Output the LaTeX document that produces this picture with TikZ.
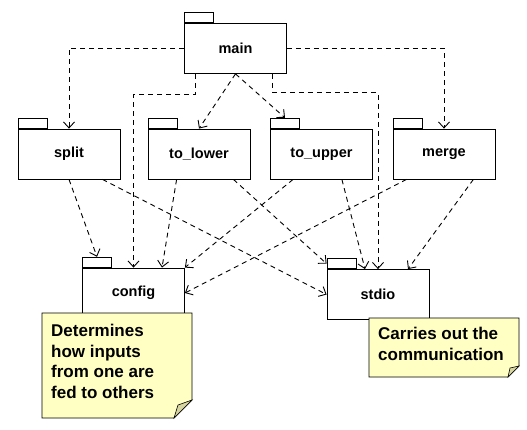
\documentclass[tikz,border=0pt]{standalone}
\usepackage{fontspec}
\setmainfont{Liberation Sans}
\usetikzlibrary{arrows.meta,calc}

\definecolor{notefill}{RGB}{255,255,196}
\definecolor{foldfill}{RGB}{216,214,160}

\tikzset{
    pkg/.style={draw, line width=0.8pt, minimum width=102pt, minimum height=50pt, inner sep=0pt,
        font=\fontsize{14.5}{17}\selectfont\bfseries},
    pkgtab/.style={draw, line width=0.8pt, minimum width=29pt, minimum height=10pt, inner sep=0pt, anchor=south west},
    dep/.style={line width=0.9pt, dash pattern=on 5pt off 4pt, -{Straight Barb[length=6pt,width=11pt]}},
    note/.style={draw, line width=0.8pt, fill=notefill},
    fold/.style={draw, line width=0.6pt, fill=foldfill},
    notetext/.style={anchor=north west, align=left, inner xsep=9pt,
        font=\fontsize{17}{20.5}\selectfont\bfseries}
}

\begin{document}
\begin{tikzpicture}[x=1pt, y=-1pt]
        \useasboundingbox (0,0) rectangle (527,430);
        % The packages.
            \node[pkg] (main) at (235.5,48.5) {main};
            \node[pkg] (split) at (69,154) {split};
            \node[pkg] (to_lower) at (199,154) {to\_lower};
            \node[pkg] (to_upper) at (321.5,154) {to\_upper};
            \node[pkg] (merge) at (444,154) {merge};
            \node[pkg] (config) at (133.5,293) {config};
            \node[pkg] (stdio) at (378,294.5) {stdio};
        % Tabs on top of each package.
            \foreach \p in {main,split,to_lower,to_upper,merge,config,stdio}
                \node[pkgtab] (\p-tab) at (\p.north west) {};
        % Dependencies of main.
            \draw[dep] (main.west) -| (split.north);
            \draw[dep] (main.east) -| (merge.north);
            \draw[dep] (main.south) -- (to_lower.north);
            \draw[dep] (main.south) -- (to_upper-tab.north);
            \draw[dep] ($(main.south west)+(11,0)$) -- ++(0,21) -| (config.north);
            \draw[dep] ($(main.south east)+(-14,0)$) -- ++(0,19) -| (stdio.north);
        % Dependencies of the filters on config and stdio.
            \draw[dep] (split.south) -- (config-tab.north);
            \draw[dep] ($(split.south east)+(-18,0)$) -- (stdio.west);
            \draw[dep] ($(to_lower.south west)+(29,0)$) -- ($(config.north)+(28.5,0)$);
            \draw[dep] ($(to_lower.south east)+(-17,0)$) -- (stdio-tab.west);
            \draw[dep] ($(to_upper.south west)+(23,0)$) -- (config.north east);
            \draw[dep] ($(to_upper.south east)+(-31,0)$) -- ($(stdio.north)+(-13,0)$);
            \draw[dep] ($(merge.south west)+(14,0)$) -- (config.east);
            \draw[dep] ($(merge.south east)+(-22,0)$) -- ($(stdio.north)+(30,0)$);
        % The two notes.
            \draw[note] (42,313) -- (192,313) -- (192,400) -- (174,418) -- (42,418) -- cycle;
            \draw[fold] (174,418) -- (192,400) -- (178,405) -- cycle;
            \node[notetext, inner ysep=11pt] (config note) at (42,313) {Determines\\how inputs\\from one are\\fed to others};
            \draw[note] (369,318) -- (519,318) -- (519,366) -- (508,377) -- (369,377) -- cycle;
            \draw[fold] (508,377) -- (519,366) -- (510,368) -- cycle;
            \node[notetext, inner ysep=9pt] (stdio note) at (369,318) {Carries out the\\communication};
    \end{tikzpicture}
\end{document}
